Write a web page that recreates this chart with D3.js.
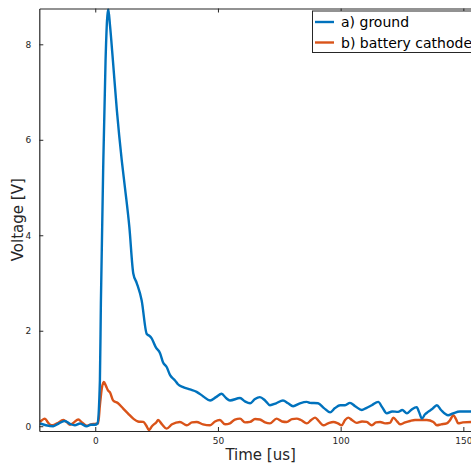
<!DOCTYPE html>
<html><head><meta charset="utf-8">
<script src="https://cdn.jsdelivr.net/npm/d3@7/dist/d3.min.js"></script>
<style>body{margin:0;background:#fff;overflow:hidden}svg{display:block}</style>
</head><body>
<script>
const xTicks = [0, 50, 100, 150];
const yTicks = [0, 2, 4, 6, 8];
const seriesNames = ["a) ground", "b) battery cathode"];
const groundT = [-22.5,-20.1,-17.1,-14.8,-12.4,-10.3,-8.3,-6.2,-3.5,-1.8,-0.1,0.9,1.9,2.3,3.3,4.2,4.8,5.3,6.0,7.2,8.8,10.8,12.1,13.9,15.5,16.9,18.9,21.0,21.9,23.0,24.7,26.4,27.6,29.1,30.5,32.5,33.7,35.8,38.6,41.3,43.9,46.8,49.2,51.5,53.3,54.9,59.0,61.0,63.1,65.1,67.1,69.2,71.2,73.7,76.5,78.6,80.6,83.4,86.2,87.5,90.8,93.2,95.7,97.7,99.8,101.8,103.8,105.9,108.6,110.4,112.7,115.3,116.9,118.8,121.0,123.4,125.1,127.0,128.7,131.0,132.0,133.1,134.4,135.6,137.3,139.2,140.9,143.8,145.8,148.6,151.0,153.1,156.0];
const groundV = [0.057,0.02,0.0,0.06,0.11,0.05,0.02,0.057,0.0,0.03,0.03,0.06,0.96,2.6,5.57,7.66,8.5,8.74,8.4,7.66,6.62,5.57,5.0,4.17,3.2,3.0,2.64,1.93,1.9,1.84,1.65,1.53,1.34,1.24,1.07,0.96,0.88,0.82,0.77,0.72,0.63,0.54,0.61,0.68,0.59,0.54,0.59,0.52,0.48,0.57,0.61,0.54,0.44,0.48,0.54,0.48,0.42,0.48,0.51,0.49,0.48,0.38,0.29,0.38,0.44,0.44,0.49,0.42,0.34,0.38,0.44,0.51,0.40,0.27,0.31,0.30,0.34,0.27,0.34,0.40,0.29,0.16,0.25,0.30,0.36,0.44,0.34,0.23,0.27,0.31,0.31,0.31,0.30];
const cathodeT = [-22.5,-20.5,-19.3,-17.8,-15.6,-13.0,-11.5,-10.3,-8.7,-6.9,-5.4,-3.5,-1.8,-0.1,1.2,1.9,2.7,3.5,4.4,5.2,6.0,7.3,9.3,11.4,13.3,15.5,17.4,19.6,20.7,21.9,23.1,25.0,25.6,27.2,29.1,31.3,34.5,37.3,39.4,41.3,43.9,46.8,48.8,50.8,52.9,54.9,56.9,59.0,61.0,63.1,65.1,67.1,69.2,71.2,73.9,76.1,78.0,80.2,82.1,83.8,86.2,88.0,89.6,91.2,93.0,94.9,97.0,98.9,100.4,101.8,103.1,104.6,106.6,108.7,110.6,112.7,114.4,116.1,118.1,120.1,121.5,123.0,124.2,126.3,128.3,130.3,132.4,135.1,137.8,139.2,140.9,143.2,144.6,145.9,147.0,147.9,149.8,153.1,156.0];
const cathodeV = [0.09,0.16,0.08,0.02,0.06,0.13,0.08,0.03,0.08,0.14,0.08,0.01,0.04,0.05,0.06,0.44,0.8,0.93,0.84,0.75,0.71,0.54,0.48,0.37,0.27,0.16,0.10,0.09,0.02,-0.08,0.0,0.09,0.13,0.04,-0.05,0.04,0.09,0.02,0.08,0.09,0.04,0.02,0.10,0.13,0.04,0.06,0.14,0.16,0.08,0.09,0.15,0.14,0.08,0.06,0.16,0.10,0.09,0.15,0.16,0.13,0.06,0.13,0.18,0.10,0.02,0.06,0.09,0.06,0.02,0.13,0.18,0.13,0.07,0.10,0.09,0.02,0.08,0.09,0.06,0.07,0.18,0.10,0.04,0.08,0.11,0.13,0.13,0.13,0.09,0.02,0.04,0.06,0.13,0.23,0.15,0.06,0.08,0.09,0.08];
const colors = ["#0072BD", "#D95319"];

const W = 471, H = 463;
const L = 39.3, R = 482, T = 8.5, B = 431;
const svg = d3.select("body").append("svg").attr("width", W).attr("height", H);
const x = d3.scaleLinear().domain([-22.8, 157.6]).range([L, R]);
const y = d3.scaleLinear().domain([-0.1, 8.75]).range([B, T]);
const font = "DejaVu Sans, sans-serif";
const axCol = "#262626";

svg.append("clipPath").attr("id", "c").append("rect")
  .attr("x", L).attr("y", T).attr("width", R - L).attr("height", B - T);

const line = d3.line().x(d => x(d[0])).y(d => y(d[1])).curve(d3.curveMonotoneX);
const series = [d3.zip(groundT, groundV), d3.zip(cathodeT, cathodeV)];
const g = svg.append("g").attr("clip-path", "url(#c)");
[1, 0].forEach(i => {
  g.append("path").datum(series[i]).attr("d", line)
    .attr("fill", "none").attr("stroke", colors[i]).attr("stroke-width", 2.4)
    .attr("stroke-linejoin", "round");
});

const xb = svg.append("g").attr("transform", `translate(0,${B})`)
  .call(d3.axisBottom(x).tickValues(xTicks).tickSizeInner(-4).tickSizeOuter(0).tickPadding(7));
const xt = svg.append("g").attr("transform", `translate(0,${T})`)
  .call(d3.axisTop(x).tickValues(xTicks).tickSizeInner(-4).tickSizeOuter(0).tickFormat(""));
const yl = svg.append("g").attr("transform", `translate(${L},0)`)
  .call(d3.axisLeft(y).tickValues(yTicks).tickSizeInner(-4).tickSizeOuter(0).tickPadding(8));
[xb, xt, yl].forEach(a => {
  a.select(".domain").attr("stroke", axCol).attr("stroke-width", 1.2);
  a.selectAll(".tick line").attr("stroke", axCol);
  a.selectAll("text").attr("fill", axCol).style("font-family", font).style("font-size", "9px");
});

svg.append("text").attr("x", (L + R) / 2).attr("y", 460).attr("text-anchor", "middle")
  .style("font-family", font).style("font-size", "15px").attr("fill", axCol).text("Time [us]");
svg.append("text").attr("transform", `translate(23,${(T + B) / 2}) rotate(-90)`).attr("text-anchor", "middle")
  .style("font-family", font).style("font-size", "15px").attr("fill", axCol).text("Voltage [V]");

const lg = svg.append("g");
lg.append("rect").attr("x", 312.5).attr("y", 11).attr("width", 180).attr("height", 41.5)
  .attr("fill", "#fff").attr("stroke", axCol).attr("stroke-width", 1);
seriesNames.forEach((n, i) => {
  const yy = 22 + i * 20.5;
  lg.append("line").attr("x1", 315).attr("x2", 334).attr("y1", yy).attr("y2", yy)
    .attr("stroke", colors[i]).attr("stroke-width", 2.4);
  lg.append("text").attr("x", 341).attr("y", yy + 5).style("font-family", font)
    .style("font-size", "14px").attr("fill", "#000").text(n);
});
</script>
</body></html>
